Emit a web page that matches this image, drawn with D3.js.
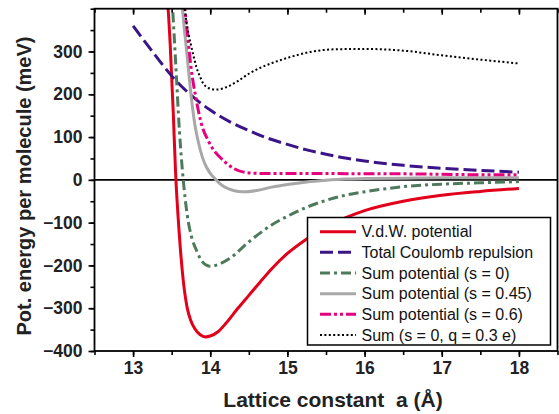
<!DOCTYPE html>
<html>
<head>
<meta charset="utf-8">
<script src="https://cdn.jsdelivr.net/npm/d3@7"></script>
<style>
  body { margin: 0; background: #fff; }
  svg { display: block; font-family: "Liberation Sans", Arial, sans-serif; }
</style>
</head>
<body>
<svg width="559" height="414"></svg>
<script>
// values: [lattice constant (Å), energy (meV)]
var vdwPoints = [[13.44, 440], [13.48, 320], [13.52, 160], [13.55, 20], [13.6, -130], [13.65, -235],
    [13.7, -298], [13.75, -330], [13.8, -348], [13.87, -362], [13.94, -367], [14.0, -365],
    [14.1, -355], [14.2, -336], [14.35, -302], [14.5, -270], [14.65, -238], [14.8, -207],
    [15.0, -172], [15.25, -138], [15.5, -110], [15.75, -89], [16.0, -72], [16.5, -50],
    [17.0, -36], [17.5, -27], [18.0, -20]];
var coulombPoints = [[13.0, 360], [13.25, 300], [13.5, 243], [13.75, 198], [14.0, 163], [14.25, 136],
    [14.5, 115], [14.75, 97], [15.0, 83], [15.25, 70], [15.5, 60], [15.75, 51], [16.0, 44],
    [16.5, 34], [17.0, 27], [17.5, 22], [18.0, 18]];
var sumS0Points = [[13.5, 440], [13.55, 280], [13.6, 116], [13.65, 0], [13.7, -80], [13.77, -141],
    [13.82, -164], [13.9, -192], [14.0, -202], [14.1, -198], [14.25, -184], [14.5, -145],
    [14.8, -105], [15.0, -85], [15.25, -64], [15.5, -48], [15.75, -36], [16.0, -28], [16.5, -16],
    [17.0, -10], [17.5, -7], [18.0, -4]];
var sumS045Points = [[13.62, 440], [13.66, 360], [13.7, 290], [13.75, 200], [13.8, 130], [13.85, 85],
    [13.9, 52], [13.95, 30], [14.0, 15], [14.06, 3], [14.12, -8], [14.2, -18], [14.3, -25],
    [14.43, -28], [14.6, -25], [14.8, -17], [15.0, -11], [15.25, -5], [15.5, -1], [15.75, 2],
    [16.0, 3], [16.5, 4], [17.0, 5], [17.5, 5], [18.0, 5]];
var sumS06Points = [[13.66, 420], [13.7, 350], [13.75, 264], [13.82, 186], [13.89, 128], [13.97, 93],
    [14.05, 68], [14.12, 54], [14.2, 40], [14.3, 27], [14.47, 17], [14.65, 15], [15.0, 15],
    [15.5, 15], [16.0, 14], [16.5, 14], [17.0, 13], [17.5, 12], [18.0, 12]];
var sumQPoints = [[13.66, 420], [13.69, 370], [13.72, 340], [13.77, 300], [13.82, 264], [13.87, 240],
    [13.91, 225], [14.0, 213], [14.08, 211], [14.2, 216], [14.35, 230], [14.5, 248], [14.65, 262],
    [14.8, 273], [15.0, 285], [15.3, 299], [15.6, 305], [16.0, 306], [16.5, 302], [17.0, 291],
    [17.5, 281], [18.0, 272]];

var seriesNames = ["V.d.W. potential", "Total Coulomb repulsion", "Sum potential (s = 0)",
    "Sum potential (s = 0.45)", "Sum potential (s = 0.6)", "Sum (s = 0, q = 0.3 e)"];
var xTicks = [13, 14, 15, 16, 17, 18];
var yTicks = [-400, -300, -200, -100, 0, 100, 200, 300];

(function () {
    var series = [
        {name: seriesNames[0], points: vdwPoints, color: "#e2001a", width: 3, dash: null},
        {name: seriesNames[1], points: coulombPoints, color: "#3b1487", width: 3, dash: "13,5"},
        {name: seriesNames[2], points: sumS0Points, color: "#4d7a5b", width: 3, dash: "10,4,3,4"},
        {name: seriesNames[3], points: sumS045Points, color: "#a8a8a8", width: 3, dash: null},
        {name: seriesNames[4], points: sumS06Points, color: "#e5007d", width: 3, dash: "11,3,3,3,3,3"},
        {name: seriesNames[5], points: sumQPoints, color: "#000000", width: 2, dash: "2,2.4"}
    ];

    var svg = d3.select("svg");
    var plotLeft = 94.5, plotRight = 557.5, plotTop = 8.7, plotBottom = 351;

    var x = d3.scaleLinear().domain([12.5, 18.5]).range([plotLeft, plotRight]);
    var y = d3.scaleLinear().domain([-400, 400]).range([plotBottom, plotTop]);

    svg.append("clipPath")
        .attr("id", "plotclip")
        .append("rect")
        .attr("x", plotLeft).attr("y", plotTop)
        .attr("width", plotRight - plotLeft).attr("height", plotBottom - plotTop);

    // zero line
    svg.append("line")
        .attr("x1", plotLeft).attr("x2", plotRight)
        .attr("y1", y(0)).attr("y2", y(0))
        .attr("stroke", "#000").attr("stroke-width", 1.8);

    var line = d3.line()
        .x(function(d) { return x(d[0]); })
        .y(function(d) { return y(d[1]); })
        .curve(d3.curveMonotoneX);

    var curves = svg.append("g").attr("clip-path", "url(#plotclip)");
    series.forEach(function(s) {
        curves.append("path")
            .attr("d", line(s.points))
            .attr("fill", "none")
            .attr("stroke", s.color)
            .attr("stroke-width", s.width)
            .attr("stroke-dasharray", s.dash);
    });

    /**
     * Axes
     */
    var minorX = d3.range(12.5, 18.51, 0.5);
    var minorY = d3.range(-400, 401, 50);

    svg.append("g")
        .attr("transform", "translate(0," + plotBottom + ")")
        .call(d3.axisBottom(x).tickValues(xTicks).tickSize(6).tickPadding(5).tickFormat(d3.format("d")));
    svg.append("g")
        .attr("transform", "translate(0," + plotBottom + ")")
        .call(d3.axisBottom(x).tickValues(minorX).tickSize(4).tickFormat(""));

    svg.append("g")
        .attr("transform", "translate(0," + plotTop + ")")
        .call(d3.axisBottom(x).tickValues(minorX).tickSize(4).tickFormat(""));
    svg.append("g")
        .attr("transform", "translate(0," + plotTop + ")")
        .call(d3.axisBottom(x).tickValues(xTicks).tickSize(6).tickFormat(""));

    svg.append("g")
        .attr("transform", "translate(" + plotLeft + ",0)")
        .call(d3.axisLeft(y).tickValues(yTicks).tickSize(6).tickPadding(6).tickFormat(d3.format("d")));
    svg.append("g")
        .attr("transform", "translate(" + plotLeft + ",0)")
        .call(d3.axisLeft(y).tickValues(minorY).tickSize(4).tickFormat(""));

    svg.selectAll(".domain").remove();
    svg.selectAll(".tick line").attr("stroke", "#000").attr("stroke-width", 1.6);
    svg.selectAll(".tick text")
        .attr("fill", "#222")
        .style("font-size", "17.5px")
        .style("font-weight", "bold");

    // frame
    svg.append("rect")
        .attr("x", plotLeft).attr("y", plotTop)
        .attr("width", plotRight - plotLeft).attr("height", plotBottom - plotTop)
        .attr("fill", "none").attr("stroke", "#000").attr("stroke-width", 1.8);

    // titles
    svg.append("text")
        .attr("x", 333).attr("y", 407)
        .attr("text-anchor", "middle")
        .attr("fill", "#222")
        .style("white-space", "pre")
        .style("font-size", "21px").style("font-weight", "bold")
        .text("Lattice constant  a (\u00C5)");

    svg.append("text")
        .attr("transform", "translate(31,186) rotate(-90)")
        .attr("text-anchor", "middle")
        .attr("fill", "#222")
        .style("font-size", "20px").style("font-weight", "bold")
        .text("Pot. energy per molecule (meV)");

    /**
     * Legend
     */
    var legend = svg.append("g");
    legend.append("rect")
        .attr("x", 307.5).attr("y", 217.5)
        .attr("width", 243).attr("height", 127.5)
        .attr("fill", "#fff").attr("stroke", "#000").attr("stroke-width", 1.5);

    var rowY = d3.scaleLinear().domain([0, 5]).range([231.7, 335]);
    var items = legend.selectAll(".item")
        .data(series)
        .enter()
        .append("g")
        .attr("class", "item")
        .attr("transform", function(d, i) { return "translate(0," + rowY(i) + ")"; });

    items.append("line")
        .attr("x1", 320).attr("x2", 356)
        .attr("stroke", function(d) { return d.color; })
        .attr("stroke-width", function(d) { return d.width; })
        .attr("stroke-dasharray", function(d) { return d.dash; });

    items.append("text")
        .attr("x", 361.5).attr("dy", 5.5)
        .attr("fill", "#111")
        .style("font-size", "16px")
        .text(function(d) { return d.name; });
})();
</script>
</body>
</html>
